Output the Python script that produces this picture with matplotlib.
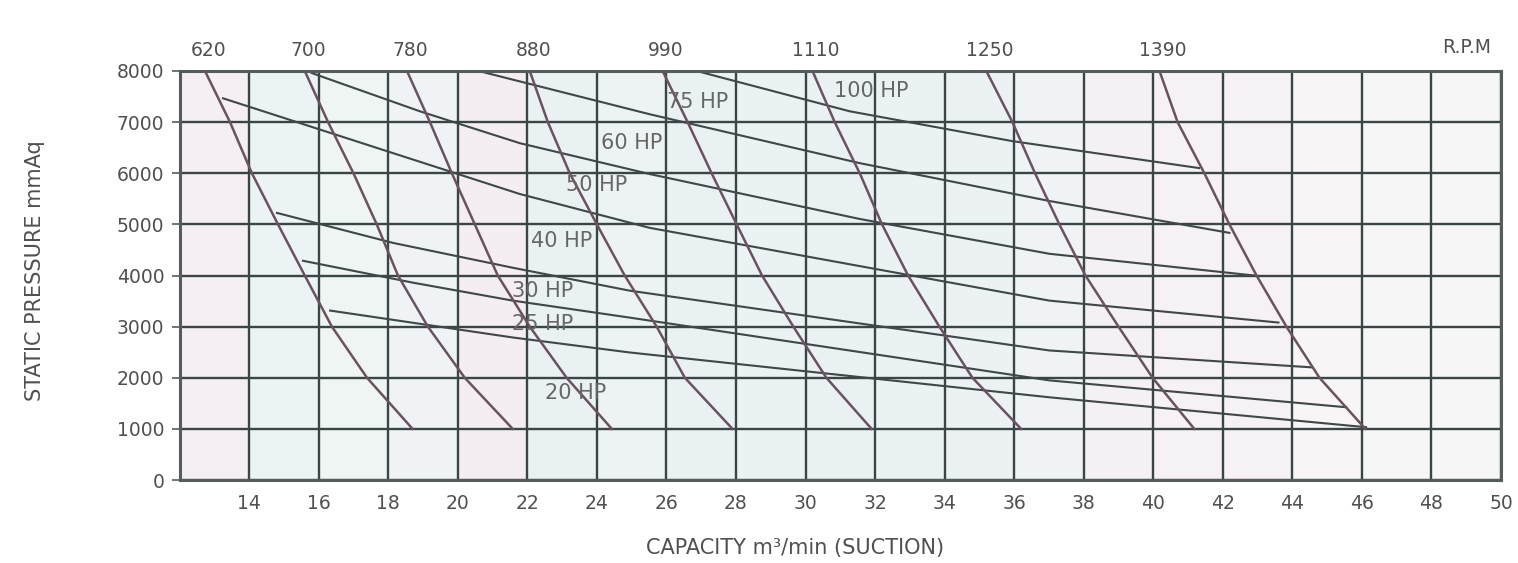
import matplotlib
matplotlib.use('Agg')
import matplotlib.pyplot as plt
import matplotlib.transforms as mtransforms

# wide sans font, closer to the stretched lettering of the scan
plt.rcParams['font.family'] = ['DejaVu Sans']

# Pressure levels used when reading the RPM curves (mmAq)
pressure_levels = [8000, 7000, 6000, 5000, 4000, 3000, 2000, 1000]

# RPM curves: capacity (m3/min) at each pressure level
rpm_values = [620, 700, 780, 880, 990, 1110, 1250, 1390]
cap_620 = [12.73, 13.45, 14.08, 14.83, 15.6, 16.38, 17.39, 18.7]
cap_700 = [15.6, 16.27, 17.0, 17.67, 18.28, 19.14, 20.2, 21.58]
cap_780 = [18.54, 19.2, 19.83, 20.49, 21.15, 22.07, 23.13, 24.43]
cap_880 = [22.07, 22.59, 23.22, 24.0, 24.8, 25.72, 26.53, 27.9]
cap_990 = [25.89, 26.61, 27.3, 28.02, 28.75, 29.65, 30.6, 31.9]
cap_1110 = [30.2, 30.84, 31.56, 32.2, 32.95, 33.85, 34.8, 36.2]
cap_1250 = [35.2, 35.95, 36.6, 37.3, 38.05, 39.0, 39.98, 41.18]
cap_1390 = [40.18, 40.7, 41.47, 42.19, 42.97, 43.83, 44.78, 46.1]
rpm_curves = [cap_620, cap_700, cap_780, cap_880, cap_990, cap_1110, cap_1250, cap_1390]

# Horsepower lines (capacity, pressure)
hp100_x = [26.87, 31.27, 35.95, 41.32]
hp100_y = [8000, 7212, 6628, 6101]
hp75_x = [20.6, 25.52, 31.55, 37.01, 42.19]
hp75_y = [8000, 7154, 6199, 5458, 4834]
hp60_x = [15.8, 18.91, 21.78, 25.52, 31.55, 37.01, 42.96]
hp60_y = [7960, 7212, 6589, 5984, 5107, 4425, 3996]
hp50_x = [13.25, 21.78, 25.52, 37.01, 43.6]
hp50_y = [7466, 5595, 4932, 3509, 3080]
hp40_x = [14.8, 18.13, 21.58, 24.94, 37.01, 44.57]
hp40_y = [5224, 4639, 4152, 3704, 2534, 2203]
hp30_x = [15.55, 18.71, 21.58, 24.94, 37.01, 45.55]
hp30_y = [4288, 3860, 3509, 3177, 1949, 1423]
hp25_x = [16.33, 21.58, 24.94, 37.01, 46.12]
hp25_y = [3314, 2788, 2495, 1618, 1033]
hp_lines = [(hp100_x, hp100_y), (hp75_x, hp75_y), (hp60_x, hp60_y), (hp50_x, hp50_y),
            (hp40_x, hp40_y), (hp30_x, hp30_y), (hp25_x, hp25_y)]

# HP label texts and where they sit
hp_labels = ['100 HP', '75 HP', '60 HP', '50 HP', '40 HP', '30 HP', '25 HP', '20 HP']
hp_label_x = [31.9, 26.9, 25.0, 24.0, 23.0, 22.45, 22.45, 23.4]
hp_label_y = [7600, 7400, 6590, 5770, 4680, 3700, 3060, 1700]

x_ticks = list(range(14, 51, 2))
y_ticks = list(range(0, 8001, 1000))

# faint tints of the scanned paper, one per grid column
column_tints = ['#f5eef2', '#ebf3f5', '#eef5f3', '#eff3f5', '#f4edf1', '#e9f1f3', '#edf2f3',
                '#e9f1f3', '#ebf2f4', '#e9f1f3', '#ebf2f4', '#ecf2f4', '#eff3f5', '#f3f1f4',
                '#f5f1f4', '#f6f1f4', '#f7f5f6', '#f7f6f7', '#f7f6f7']

txt_color = '#505050'

fig = plt.figure(figsize=(15.18, 5.63), dpi=100)
ax = fig.add_axes([0.1183, 0.1474, 0.8705, 0.7265])

for i, c in enumerate(column_tints):
    ax.axvspan(12 + 2 * i, 14 + 2 * i, color=c, zorder=0, lw=0)

ax.set_xlim(12, 50)
ax.set_ylim(0, 8000)
ax.set_xticks(x_ticks)
ax.set_yticks(y_ticks)
ax.grid(True, color='#3a4545', linewidth=1.7, zorder=1)
for s in ax.spines.values():
    s.set_color('#555c5c')
    s.set_linewidth(2.2)
ax.tick_params(axis='x', length=0, pad=10, labelsize=13.5, labelcolor=txt_color)
ax.tick_params(axis='y', length=6, width=1.2, color='#555c5c', pad=5, labelsize=13.5, labelcolor=txt_color)

# RPM curves
for caps in rpm_curves:
    ax.plot(caps, pressure_levels, color='#6b5260', linewidth=1.8, zorder=3)

# HP lines
for xs, ys in hp_lines:
    ax.plot(xs, ys, color='#3e4848', linewidth=1.5, zorder=2)

for lab, lx, ly in zip(hp_labels, hp_label_x, hp_label_y):
    ax.text(lx, ly, lab, fontsize=15, color='#666666', ha='center', va='center', zorder=4)

# RPM labels along the top
trans = mtransforms.blended_transform_factory(ax.transData, ax.transAxes)
for rpm, caps in zip(rpm_values, rpm_curves):
    ax.text(caps[0] + 0.1, 1.05, str(rpm), transform=trans, fontsize=13.5, color=txt_color,
            ha='center', va='center')
ax.text(49.0, 1.057, 'R.P.M', transform=trans, fontsize=13.5, color=txt_color, ha='center', va='center')

fig.text(0.023, 0.52, 'STATIC PRESSURE mmAq', rotation=90, fontsize=15, color=txt_color,
         ha='center', va='center')
fig.text(0.524, 0.027, 'CAPACITY m³/min (SUCTION)', fontsize=15, color=txt_color,
         ha='center', va='center')

fig.savefig('out.png', dpi=100, facecolor='white')
